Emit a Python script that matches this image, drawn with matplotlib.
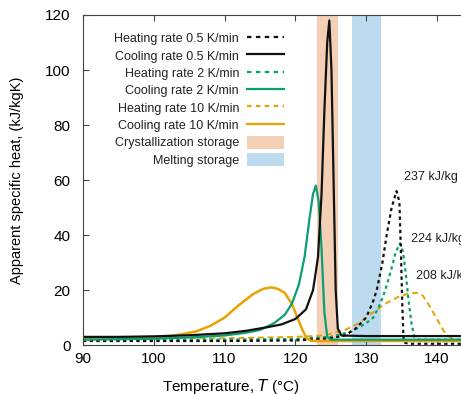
import numpy as np
import matplotlib
matplotlib.use('Agg')
import matplotlib.pyplot as plt
from matplotlib.lines import Line2D
from matplotlib.patches import Patch

plt.rcParams['font.family'] = ['Liberation Sans', 'DejaVu Sans']

# temperature (degC) / apparent specific heat (kJ/kgK)
t_cool_05 = [90, 95, 100, 105, 110, 113, 116, 118, 120, 121.5, 122.5, 123.2, 123.7, 124.1,
             124.5, 124.8, 125.1, 125.4, 125.7, 126.0, 126.5, 130, 135, 140, 143.4]
cp_cool_05 = [3, 3, 3.2, 3.6, 4.3, 5.2, 6.5, 7.5, 9.5, 13, 20, 32, 55, 85,
              110, 118, 100, 60, 20, 6, 3.5, 3.3, 3.3, 3.3, 3.3]

t_heat_05 = [90, 110, 120, 125, 127, 128.5, 130, 131, 131.5, 132.3, 132.9, 133.6, 134.3,
             134.7, 134.9, 135.1, 135.3, 136, 143.4]
cp_heat_05 = [1.5, 1.5, 1.7, 2.5, 3.5, 6, 10, 16, 20, 30, 40, 50, 56,
              52, 35, 15, 1.0, 0.5, 0.5]

t_cool_2 = [90, 100, 105, 110, 113, 115, 117, 118.5, 119.5, 120.5, 121.3, 122.0, 122.5,
            122.9, 123.3, 123.7, 124.1, 124.5, 125, 130, 140, 143.4]
cp_cool_2 = [2, 2.3, 2.8, 3.5, 4.5, 5.5, 8, 11, 15, 22, 32, 46, 55,
             58, 52, 35, 12, 3, 2, 2, 2, 2]

t_heat_2 = [90, 110, 120, 125, 128, 130, 131, 132, 132.7, 133.5, 134.2, 134.8, 135.2,
            135.6, 136.0, 136.4, 136.8, 137.2, 143.4]
cp_heat_2 = [2, 2, 2.2, 3, 5, 8, 10, 15, 20, 27, 34, 37, 34,
             26, 16, 8, 3, 2, 2]

t_cool_10 = [90, 95, 100, 103, 106, 108, 110, 112, 114, 115.5, 116.6, 117.5, 118.5,
             119.5, 120.3, 121.0, 121.6, 122.2, 123, 130, 143.4]
cp_cool_10 = [2.2, 2.4, 2.8, 3.5, 5, 7, 10, 14.5, 18.5, 20.5, 21, 20.5, 19,
              15, 10, 5.5, 2.5, 1.6, 1.5, 1.5, 1.5]

t_heat_10 = [90, 110, 120, 124, 127, 129, 131, 133, 134.5, 136, 137.2, 138, 139,
             140, 141, 142, 143, 143.4]
cp_heat_10 = [2.5, 2.5, 3, 3.5, 5.5, 8, 12, 15.5, 17.5, 18.8, 19, 18, 14,
              9.5, 5, 2.5, 2, 2]

cryst_band = (123.0, 126.0)
melt_band = (128.0, 132.1)

latent_labels = ['237 kJ/kg', '224 kJ/kg', '208 kJ/kg']
latent_pos = [(135.3, 59), (136.3, 36.5), (137.0, 23)]

c_black = '#111111'
c_green = '#0a9e73'
c_orange = '#e9a200'
c_cryst = '#f3cfb5'
c_melt = '#bcdbee'

fig = plt.figure(figsize=(4.61, 3.94), dpi=100)
ax = fig.add_axes([0.18, 0.124, 0.82, 0.838])

ax.axvspan(*cryst_band, color=c_cryst, lw=0)
ax.axvspan(*melt_band, color=c_melt, lw=0)

dot = (0, (1.5, 1.5))
dash = (0, (3, 2))
ax.plot(t_heat_10, cp_heat_10, color=c_orange, lw=1.4, ls=dash)
ax.plot(t_heat_2, cp_heat_2, color=c_green, lw=1.6, ls=dot)
ax.plot(t_heat_05, cp_heat_05, color=c_black, lw=1.6, ls=dot)
ax.plot(t_cool_10, cp_cool_10, color=c_orange, lw=1.8)
ax.plot(t_cool_2, cp_cool_2, color=c_green, lw=1.6)
ax.plot(t_cool_05, cp_cool_05, color=c_black, lw=1.6)

# the reference crops these at the right edge
for s, (x, y) in zip(latent_labels, latent_pos):
    ax.text(x, y, s, fontsize=9, color='#222222', va='bottom', ha='left')

ax.set_xlim(90, 143.4)
ax.set_ylim(0, 120)
ax.set_xticks([90, 100, 110, 120, 130, 140])
ax.set_yticks([0, 20, 40, 60, 80, 100, 120])
ax.tick_params(direction='in', top=True, right=False, labelsize=11, color='#444444', length=4)
ax.tick_params(axis='y', pad=9)
ax.tick_params(axis='x', pad=5)
for side in ['left', 'bottom', 'top']:
    ax.spines[side].set_color('#444444')
ax.spines['right'].set_visible(False)

ax.set_xlabel('Temperature, $\\mathit{T}$ (°C)', fontsize=11)
ax.set_ylabel('Apparent specific heat, (kJ/kgK)', fontsize=10.5)
ax.yaxis.set_label_coords(-0.155, 0.5)
ax.xaxis.set_label_coords(0.39, -0.095)

handles = [
    Line2D([], [], color=c_black, lw=1.6, ls=(0, (2, 2))),
    Line2D([], [], color=c_black, lw=1.6),
    Line2D([], [], color=c_green, lw=1.6, ls=(0, (2, 2))),
    Line2D([], [], color=c_green, lw=1.6),
    Line2D([], [], color=c_orange, lw=1.6, ls=(0, (2, 2))),
    Line2D([], [], color=c_orange, lw=1.6),
    Patch(color=c_cryst, lw=0),
    Patch(color=c_melt, lw=0),
]
labels = ['Heating rate 0.5 K/min', 'Cooling rate 0.5 K/min', 'Heating rate 2 K/min',
          'Cooling rate 2 K/min', 'Heating rate 10 K/min', 'Cooling rate 10 K/min',
          'Crystallization storage', 'Melting storage']
leg = ax.legend(handles, labels, loc='upper right', bbox_to_anchor=(0.545, 0.965),
                frameon=False, markerfirst=False, fontsize=9, handlelength=3,
                handleheight=1.2, labelspacing=0.3, handletextpad=0.6, borderaxespad=0)
for txt in leg.get_texts():
    txt.set_color('#222222')

fig.savefig('out.png', dpi=100)
